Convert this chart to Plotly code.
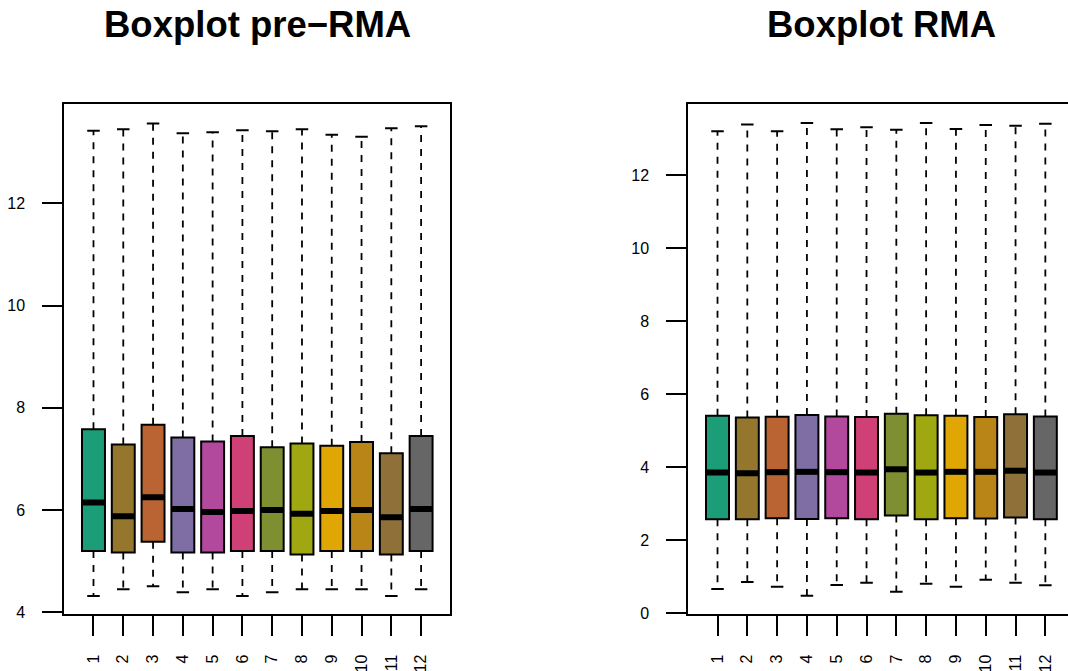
import plotly.graph_objects as go

# sample labels and box positions
samples = [str(i) for i in range(1, 13)]
positions = list(range(1, 13))

# five-number summaries, raw log2 intensities (pre-RMA)
pre_lower = [4.32, 4.45, 4.51, 4.39, 4.45, 4.32, 4.39, 4.45, 4.45, 4.45, 4.32, 4.45]
pre_q1 = [5.20, 5.17, 5.38, 5.17, 5.17, 5.20, 5.20, 5.13, 5.20, 5.20, 5.13, 5.20]
pre_median = [6.15, 5.88, 6.25, 6.02, 5.96, 5.98, 6.00, 5.93, 5.98, 6.00, 5.86, 6.02]
pre_q3 = [7.58, 7.28, 7.67, 7.42, 7.34, 7.45, 7.23, 7.30, 7.26, 7.33, 7.11, 7.45]
pre_upper = [13.42, 13.45, 13.56, 13.37, 13.39, 13.43, 13.41, 13.45, 13.34, 13.30, 13.47, 13.51]

# five-number summaries after RMA normalisation
rma_lower = [0.66, 0.85, 0.72, 0.47, 0.77, 0.83, 0.58, 0.80, 0.72, 0.91, 0.83, 0.76]
rma_q1 = [2.57, 2.57, 2.60, 2.58, 2.60, 2.57, 2.67, 2.57, 2.60, 2.59, 2.62, 2.57]
rma_median = [3.85, 3.83, 3.86, 3.87, 3.86, 3.85, 3.94, 3.85, 3.87, 3.87, 3.90, 3.85]
rma_q3 = [5.41, 5.36, 5.38, 5.43, 5.39, 5.37, 5.46, 5.42, 5.41, 5.37, 5.45, 5.39]
rma_upper = [13.21, 13.39, 13.21, 13.43, 13.26, 13.32, 13.25, 13.43, 13.27, 13.38, 13.36, 13.41]

# Dark2 ramped to 12 colours
colors = ["#1B9E77", "#94762D", "#B96432", "#7E6EA3", "#B3499D", "#CF4076",
          "#7E8F32", "#A0A811", "#E0A604", "#B88516", "#8F7038", "#666666"]

FONT = "Liberation Sans, Arial, Helvetica, sans-serif"
W, H = 1068, 671
BOX_W = 0.77
STAPLE_HALF = 0.21

fig = go.Figure()


def add_panel(lower, q1, med, q3, upper, xa, ya):
    xref = "x" if xa == "xaxis" else "x2"
    yref = "y" if ya == "yaxis" else "y2"
    # dashed whiskers, drawn outward from the box edges
    wx, wy = [], []
    for p, a, b, c, d in zip(positions, q3, upper, q1, lower):
        wx += [p, p, None, p, p, None]
        wy += [a, b, None, c, d, None]
    fig.add_trace(go.Scatter(x=wx, y=wy, mode="lines", xaxis=xref, yaxis=yref,
                             line=dict(color="black", width=1.8, dash="7px,7px"),
                             hoverinfo="skip"))
    # staples
    sx, sy = [], []
    for p, b, d in zip(positions, upper, lower):
        sx += [p - STAPLE_HALF, p + STAPLE_HALF, None, p - STAPLE_HALF, p + STAPLE_HALF, None]
        sy += [b, b, None, d, d, None]
    fig.add_trace(go.Scatter(x=sx, y=sy, mode="lines", xaxis=xref, yaxis=yref,
                             line=dict(color="black", width=2), hoverinfo="skip"))
    # filled boxes
    for i, p in enumerate(positions):
        fig.add_trace(go.Box(x=[p], q1=[q1[i]], median=[med[i]], q3=[q3[i]],
                             lowerfence=[q1[i]], upperfence=[q3[i]],
                             width=BOX_W, whiskerwidth=0, fillcolor=colors[i],
                             line=dict(color="black", width=2),
                             xaxis=xref, yaxis=yref, name=samples[i]))
    # thick median bars
    mx, my = [], []
    for p, m in zip(positions, med):
        mx += [p - BOX_W / 2, p + BOX_W / 2, None]
        my += [m, m, None]
    fig.add_trace(go.Scatter(x=mx, y=my, mode="lines", xaxis=xref, yaxis=yref,
                             line=dict(color="black", width=6), hoverinfo="skip"))


add_panel(pre_lower, pre_q1, pre_median, pre_q3, pre_upper, "xaxis", "yaxis")
add_panel(rma_lower, rma_q1, rma_median, rma_q3, rma_upper, "xaxis2", "yaxis2")

tickfont = dict(family=FONT, size=16, color="black")
common_x = dict(tickmode="array", tickvals=positions, ticktext=samples, tickangle=-90,
                ticks="outside", ticklen=20, tickwidth=1.8, tickcolor="black",
                showline=True, linewidth=2, linecolor="black", mirror=True,
                showgrid=False, zeroline=False, tickfont=tickfont,
                ticklabelstandoff=12, automargin=False)
common_y = dict(ticks="outside", ticklen=20, tickwidth=1.8, tickcolor="black",
                showline=True, linewidth=2, linecolor="black",
                showgrid=False, zeroline=False, tickfont=tickfont,
                ticklabelstandoff=14, automargin=False)

y_dom = [(H - 614.3) / H, (H - 104.3) / H]

fig.update_layout(
    width=W, height=H,
    margin=dict(l=0, r=0, t=0, b=0),
    paper_bgcolor="white", plot_bgcolor="white",
    showlegend=False,
    boxmode="overlay",
    xaxis=dict(common_x, domain=[64.3 / W, 450.3 / W], range=[0.02, 12.98]),
    yaxis=dict(common_y, domain=y_dom, range=[3.961, 13.937],
               tickvals=[4, 6, 8, 10, 12], mirror=True),
    xaxis2=dict(common_x, domain=[688.3 / W, 1.0], range=[0.02, 12.76], anchor="y2"),
    yaxis2=dict(common_y, domain=y_dom, range=[-0.036, 13.946],
                tickvals=[0, 2, 4, 6, 8, 10, 12], anchor="x2", mirror=False),
    annotations=[
        dict(text="<b>Boxplot pre\u2212RMA</b>", x=257.3 / W, y=1 - 25 / H,
             xref="paper", yref="paper", xanchor="center", yanchor="middle",
             showarrow=False, font=dict(family=FONT, size=36.5, color="black")),
        dict(text="<b>Boxplot RMA</b>", x=881.3 / W, y=1 - 25 / H,
             xref="paper", yref="paper", xanchor="center", yanchor="middle",
             showarrow=False, font=dict(family=FONT, size=36.5, color="black")),
    ],
)

fig.write_html("out.html", config={"displayModeBar": False})
